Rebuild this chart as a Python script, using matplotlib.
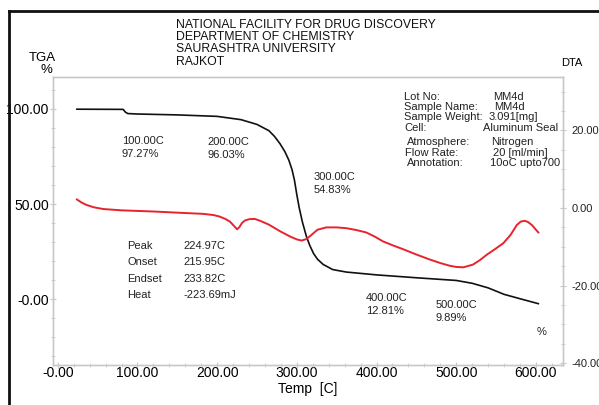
import matplotlib
matplotlib.use("Agg")
import matplotlib.pyplot as plt
from matplotlib.ticker import FixedLocator, FixedFormatter, MultipleLocator

plt.rcParams['font.family'] = ['Liberation Sans', 'DejaVu Sans']

# TGA trace (temperature in C, weight %)
tga_temp = [24, 82, 85, 88, 100, 150, 200, 230, 250, 265, 272, 279, 285, 290,
            294, 297, 300, 303, 307, 312, 316, 321, 326, 333, 345, 362, 400,
            450, 500, 520, 540, 560, 580, 603]
tga_pct = [99.8, 99.7, 98.2, 97.5, 97.27, 96.8, 96.03, 94.3, 91.8, 88.5, 85.5,
           81.6, 77.5, 73.0, 68.0, 62.5, 54.83, 48.0, 40.5, 33.0, 28.5, 24.0,
           21.0, 18.3, 15.6, 14.3, 12.81, 11.3, 9.89, 8.4, 6.0, 2.6, 0.3, -2.3]

# DTA trace (temperature in C, DTA signal)
dta_temp = [24, 30, 36, 45, 57, 80, 120, 150, 182, 195, 203, 210, 216, 221, 225,
            228, 231, 235, 240, 247, 254, 265, 279, 292, 300, 306, 312, 318, 326,
            337, 350, 362, 375, 387, 398, 408, 420, 433, 450, 467, 480, 492, 500,
            509, 521, 530, 538, 548, 559, 568, 576, 581, 586, 590, 595, 603]
dta_val = [2.2, 1.4, 0.8, 0.2, -0.26, -0.6, -0.9, -1.2, -1.5, -1.8, -2.2, -2.8,
           -3.5, -4.6, -5.5, -4.9, -3.9, -3.2, -2.9, -2.8, -3.3, -4.3, -6.0, -7.4,
           -8.1, -8.4, -8.0, -7.0, -5.6, -5.0, -5.0, -5.2, -5.7, -6.3, -7.4, -8.6,
           -9.6, -10.6, -12.0, -13.3, -14.2, -14.9, -15.2, -15.3, -14.6, -13.4,
           -12.1, -10.7, -9.1, -7.0, -4.4, -3.5, -3.3, -3.6, -4.4, -6.3]

x_ticks = [0, 100, 200, 300, 400, 500, 600]
x_labels = ["-0.00", "100.00", "200.00", "300.00", "400.00", "500.00", "600.00"]
tga_ticks = [0, 50, 100]
tga_labels = ["-0.00", "50.00", "100.00"]
dta_ticks = [-40, -20, 0, 20]
dta_labels = ["-40.00", "-20.00", "0.00", "20.00"]

# point readings printed on the TGA curve
mark_temp = [100, 200, 300, 400, 500]
mark_pct = [97.27, 96.03, 54.83, 12.81, 9.89]
mark_pos = [(122, 141), (207, 142), (314, 177), (366, 298), (436, 305)]

peak_rows = [("Peak", "224.97C"), ("Onset", "215.95C"),
             ("Endset", "233.82C"), ("Heat", "-223.69mJ")]
info_rows = [("Lot No:", "MM4d"), ("Sample Name:", "MM4d"),
             ("Sample Weight:", "3.091[mg]"), ("Cell:", "Aluminum Seal"),
             ("Atmosphere:", "Nitrogen"), ("Flow Rate:", "20 [ml/min]"),
             ("Annotation:", "10oC upto700")]
header = ["NATIONAL FACILITY FOR DRUG DISCOVERY", "DEPARTMENT OF CHEMISTRY",
          "SAURASHTRA UNIVERSITY", "RAJKOT"]

W, H = 599, 405
fig = plt.figure(figsize=(W / 100, H / 100), dpi=100)


def px(x, y):
    return x / W, 1 - y / H


l, t, r, b = 53, 77, 563, 365
ax = fig.add_axes([l / W, 1 - b / H, (r - l) / W, (b - t) / H])
ax2 = ax.twinx()

ax.plot(tga_temp, tga_pct, color='#111111', lw=1.2, zorder=3)
ax2.plot(dta_temp, dta_val, color='#e8232d', lw=1.4)

ax.set_xlim(-6, 634)
ax.set_ylim(-34.5, 116.7)
ax2.set_ylim(-40.5, 33.8)

grey = '#c8c8c8'
for a in (ax, ax2):
    for s in a.spines.values():
        s.set_color(grey)
        s.set_linewidth(1.0)

ax.xaxis.set_major_locator(FixedLocator(x_ticks))
ax.xaxis.set_major_formatter(FixedFormatter(x_labels))
ax.xaxis.set_minor_locator(MultipleLocator(20))
ax.yaxis.set_major_locator(FixedLocator(tga_ticks))
ax.yaxis.set_major_formatter(FixedFormatter(tga_labels))
ax.yaxis.set_minor_locator(MultipleLocator(10))
ax2.yaxis.set_major_locator(FixedLocator(dta_ticks))
ax2.yaxis.set_major_formatter(FixedFormatter(dta_labels))
ax2.yaxis.set_minor_locator(MultipleLocator(5))

ax.tick_params(axis='x', which='both', direction='inout', color=grey,
               labelsize=10, pad=-1, length=4)
ax.tick_params(axis='y', which='both', direction='inout', color=grey,
               labelsize=10, pad=1, length=4)
ax2.tick_params(axis='y', which='both', direction='inout', color=grey,
                labelsize=8, pad=4, length=4, labelcolor='#222222')
ax.tick_params(which='minor', length=3)
ax2.tick_params(which='minor', length=3)

ax.set_xlabel("Temp  [C]", fontsize=10, labelpad=1)

txt = '#222222'
for (x, y), tc, pc in zip(mark_pos, mark_temp, mark_pct):
    fig.text(*px(x, y), f"{tc:.2f}C", fontsize=8, color=txt, va='center')
    fig.text(*px(x, y + 13), f"{pc:.2f}%", fontsize=8, color=txt, va='center')
fig.text(*px(537, 332), "%", fontsize=8, color=txt, va='center')

for i, (k, v) in enumerate(peak_rows):
    y = 246 + i * 16.3
    fig.text(*px(127, y), k, fontsize=8, color=txt, va='center')
    fig.text(*px(183, y), v, fontsize=8, color=txt, va='center')

info_y = [97, 107, 117, 128, 142, 153, 163]
info_xk = [404, 404, 404, 404, 407, 405, 407]
info_xv = [493, 494, 489, 483, 491, 493, 490]
for (k, v), y, xk, xv in zip(info_rows, info_y, info_xk, info_xv):
    fig.text(*px(xk, y), k, fontsize=8, color=txt, va='center')
    fig.text(*px(xv, y), v, fontsize=8, color=txt, va='center')

for i, line in enumerate(header):
    fig.text(*px(176, 24.5 + i * 12.4), line, fontsize=8.8, color='#111111',
             va='center')

fig.text(*px(42, 58), "TGA", fontsize=9.5, ha='center', va='center')
fig.text(*px(46, 70), "%", fontsize=9.5, ha='center', va='center')
fig.text(*px(572, 63), "DTA", fontsize=8, ha='center', va='center')

# outer frame on the left and top edges
fig.add_artist(plt.Line2D([9 / W, 9 / W], [0, 1 - 11 / H], transform=fig.transFigure,
                          color='#111111', lw=2))
fig.add_artist(plt.Line2D([9 / W, 1], [1 - 11 / H, 1 - 11 / H], transform=fig.transFigure,
                          color='#111111', lw=2))

fig.savefig("out.png", dpi=100)
